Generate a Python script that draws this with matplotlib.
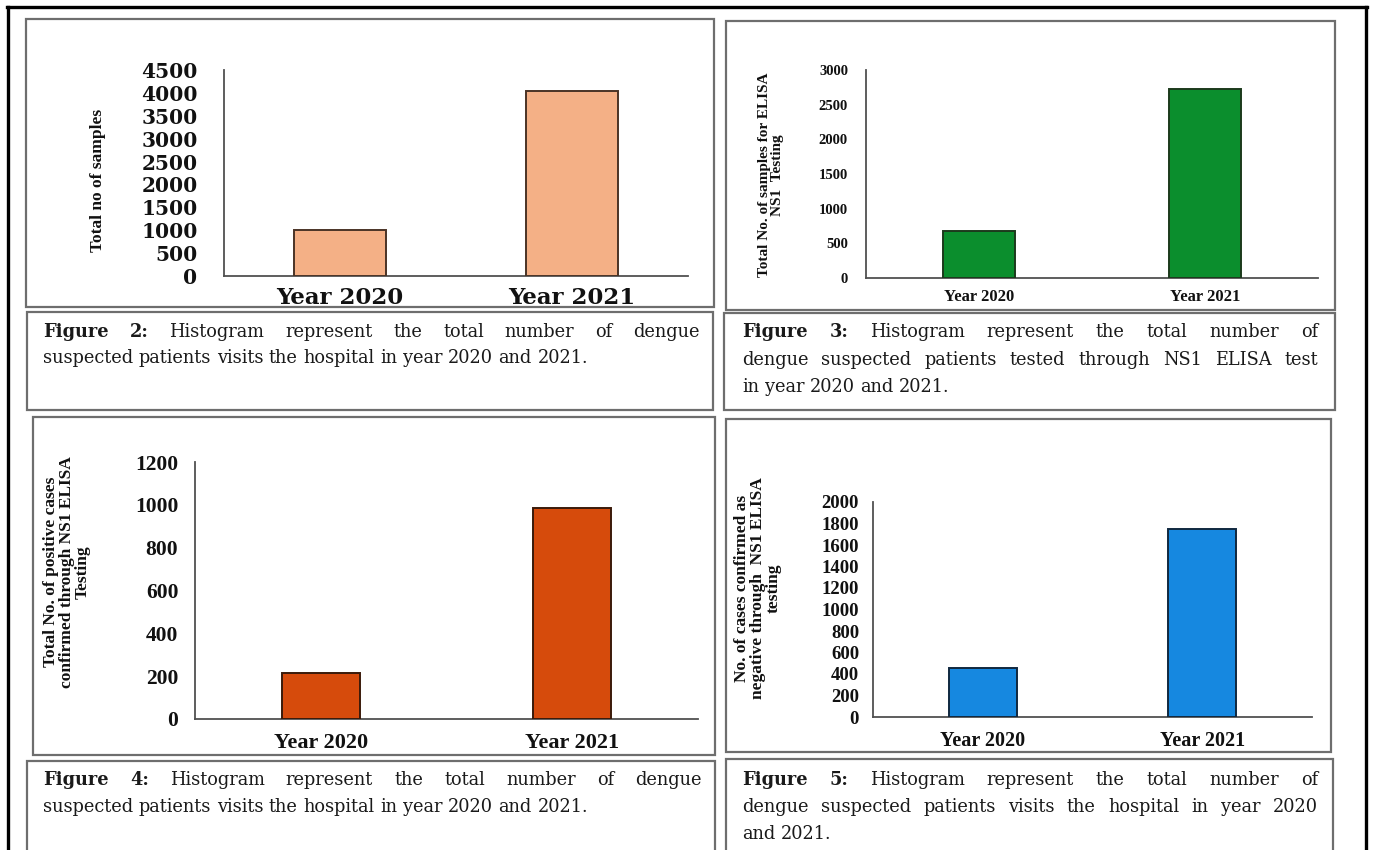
import matplotlib
matplotlib.use("Agg")
import matplotlib.pyplot as plt
from matplotlib.patches import Rectangle
from matplotlib.lines import Line2D

# ---- data -------------------------------------------------------------
years = ["Year 2020", "Year 2021"]
total_samples = [1000, 4050]          # Figure 2
elisa_tested = [680, 2720]            # Figure 3
ns1_positive = [215, 985]             # Figure 4
ns1_negative = [460, 1745]            # Figure 5

ylabel_fig2 = "Total no of samples"
ylabel_fig3 = "Total No. of samples for ELISA\nNS1  Testing"
ylabel_fig4 = "Total No. of positive cases\nconfirmed through NS1 ELISA\nTesting"
ylabel_fig5 = "No. of cases confirmed as\nnegative through  NS1 ELISA\ntesting"

caption_fig2 = [("Figure 2:", "Histogram represent the total number of dengue", True),
                ("", "suspected patients visits the hospital in year 2020 and 2021.", False)]
caption_fig3 = [("Figure 3:", "Histogram represent the total number of", True),
                ("", "dengue suspected patients tested through NS1 ELISA test", True),
                ("", "in year 2020 and 2021.", False)]
caption_fig4 = [("Figure 4:", "Histogram represent the total number of dengue", True),
                ("", "suspected patients visits the hospital in year 2020 and 2021.", False)]
caption_fig5 = [("Figure 5:", "Histogram represent the total number of", True),
                ("", "dengue suspected patients visits the hospital in year 2020", True),
                ("", "and 2021.", False)]

# ---- figure -----------------------------------------------------------
W, H = 1373, 850
fig = plt.figure(figsize=(W / 100, H / 100), dpi=100)
fig.patch.set_facecolor("white")
SERIF = ["Liberation Serif", "DejaVu Serif"]
WIDE = ["DejaVu Serif"]
INK = "#111111"


def fx(x):
    return x / W


def fy(y):
    return 1 - y / H


def box(x0, y0, x1, y1, color="#6e6e6e", lw=1.6):
    fig.patches.append(Rectangle((fx(x0), fy(y1)), fx(x1) - fx(x0), fy(y0) - fy(y1),
                                 transform=fig.transFigure, fill=False,
                                 edgecolor=color, linewidth=lw, zorder=5))


def bar_panel(px, values, ymax, step, color, edge, width,
              tick_font, tick_size, tick_pad, x_font, x_size, x_pad):
    x0, y0, x1, y1 = px
    ax = fig.add_axes([fx(x0), fy(y1), fx(x1) - fx(x0), fy(y0) - fy(y1)])
    pos = list(range(len(years)))
    ax.bar(pos, values, width=width, color=color, edgecolor=edge, linewidth=1.4, zorder=3)
    ax.set_xlim(-0.5, 1.5)
    ax.set_ylim(0, ymax)
    ax.set_yticks(list(range(0, ymax + 1, step)))
    ax.set_xticks(pos)
    ax.set_xticklabels(years)
    for s in ("top", "right"):
        ax.spines[s].set_visible(False)
    for s in ("left", "bottom"):
        ax.spines[s].set_color("#505050")
        ax.spines[s].set_linewidth(1.3)
    ax.tick_params(axis="y", length=0, pad=tick_pad)
    ax.tick_params(axis="x", length=0, pad=x_pad)
    for lab in ax.get_yticklabels():
        lab.set_fontfamily(tick_font)
        lab.set_fontweight("bold")
        lab.set_fontsize(tick_size)
        lab.set_color(INK)
    for lab in ax.get_xticklabels():
        lab.set_fontfamily(x_font)
        lab.set_fontweight("bold")
        lab.set_fontsize(x_size)
        lab.set_color(INK)
    ax.set_facecolor("none")
    return ax


# outer frame
for (xa, ya, xb, yb) in [(8, 7, 8, 852), (7, 7, 1367, 7), (1366, 7, 1366, 852)]:
    fig.add_artist(Line2D([fx(xa), fx(xb)], [fy(ya), fy(yb)], transform=fig.transFigure,
                          color="black", linewidth=2.4))

# panel and caption frames
box(26, 19, 714, 307)
box(27, 312, 713, 410)
box(726, 21, 1335, 310)
box(724, 313, 1335, 410)
box(33, 417, 715, 755)
box(27, 761, 715, 870)
box(726, 419, 1331, 752)
box(726, 759, 1333, 870)

# charts
bar_panel((224, 70, 688, 276), total_samples, 4500, 500, "#F4B086", "#4a3326", 0.40,
          WIDE, 14.5, 19, WIDE, 16.5, 8)
bar_panel((866, 70, 1318, 278), elisa_tested, 3000, 500, "#0B8E2D", "#1c3a1c", 0.32,
          SERIF, 10.5, 13, SERIF, 12, 8)
bar_panel((195, 462, 698, 719), ns1_positive, 1200, 200, "#D64B0C", "#3a1a0a", 0.31,
          SERIF, 15.5, 12, SERIF, 16, 10)
bar_panel((873, 502, 1312, 717), ns1_negative, 2000, 200, "#1688E0", "#10283f", 0.31,
          SERIF, 13.5, 10, SERIF, 14.5, 10)

# y-axis titles
fig.text(fx(98), fy(180), ylabel_fig2, rotation=90, ha="center", va="center",
         fontfamily=SERIF, fontweight="bold", fontsize=12.5, color=INK)
fig.text(fx(771), fy(175), ylabel_fig3, rotation=90, ha="center", va="center",
         multialignment="center", linespacing=0.95,
         fontfamily=SERIF, fontweight="bold", fontsize=11, color=INK)
fig.text(fx(67), fy(572), ylabel_fig4, rotation=90, ha="center", va="center",
         multialignment="center", linespacing=0.98,
         fontfamily=SERIF, fontweight="bold", fontsize=12.5, color=INK)
fig.text(fx(758), fy(588), ylabel_fig5, rotation=90, ha="center", va="center",
         multialignment="center", linespacing=0.98,
         fontfamily=SERIF, fontweight="bold", fontsize=12.5, color=INK)

# captions with justified lines
renderer = fig.canvas.get_renderer()
CAP_FONT = ["DejaVu Serif"]
CAP_SIZE = 12.8


def caption(x0, x1, baselines, lines):
    for yb, (lead, body, justify) in zip(baselines, lines):
        words = []
        for w in lead.split():
            words.append((w, "bold"))
        for w in body.split():
            words.append((w, "normal"))
        texts = []
        for w, weight in words:
            t = fig.text(0, fy(yb), w, fontfamily=CAP_FONT, fontweight=weight,
                         fontsize=CAP_SIZE, color="#1a1a1a", ha="left", va="baseline")
            texts.append(t)
        widths = [t.get_window_extent(renderer).width for t in texts]
        if justify and len(texts) > 1:
            gap = (x1 - x0 - sum(widths)) / (len(texts) - 1)
        else:
            space = fig.text(0, 0, "a a", fontfamily=CAP_FONT, fontsize=CAP_SIZE)
            aa = fig.text(0, 0, "aa", fontfamily=CAP_FONT, fontsize=CAP_SIZE)
            gap = space.get_window_extent(renderer).width - aa.get_window_extent(renderer).width
            space.remove()
            aa.remove()
        x = x0
        for t, w in zip(texts, widths):
            t.set_x(fx(x))
            x += w + gap


caption(43, 700, [337, 363], caption_fig2)
caption(742, 1318, [337, 365, 392], caption_fig3)
caption(43, 702, [785, 812], caption_fig4)
caption(742, 1318, [785, 812, 839], caption_fig5)

fig.savefig("out.png", dpi=100, facecolor="white")
